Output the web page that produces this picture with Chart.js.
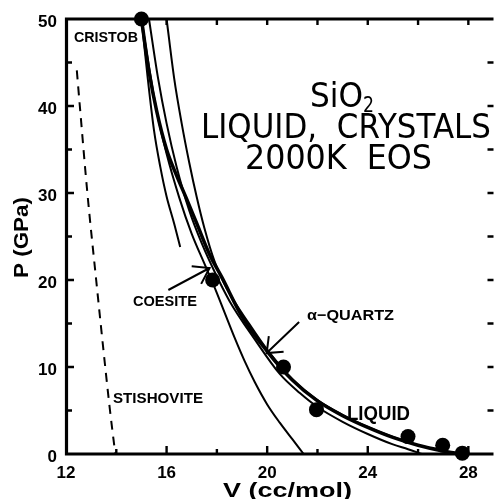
<!DOCTYPE html>
<html><head><meta charset="utf-8">
<script src="https://cdn.jsdelivr.net/npm/chart.js@4/dist/chart.umd.min.js"></script>
<style>html,body{margin:0;padding:0;background:#fff;overflow:hidden}canvas{display:block}</style>
</head><body>
<canvas id="c" width="501" height="499"></canvas>
<script>
// ---- data (V in cc/mol, P in GPa) ----
const liquidDataV = [15.0, 17.83, 20.65, 21.96, 25.6, 26.98, 27.76];
const liquidDataP = [50.0, 20.0, 10.0, 5.1, 2.0, 1.0, 0.1];

const liquidCurveV = [15.0, 15.3, 15.6, 16.0, 16.4, 16.8, 17.2, 17.7, 18.2, 19.0, 20.0, 21.0, 22.0, 23.0, 24.0, 25.0, 26.0, 27.0, 27.7];
const liquidCurveP = [50.0, 44.0, 39.5, 35.0, 32.0, 29.3, 26.5, 23.0, 20.3, 15.8, 11.8, 8.5, 6.1, 4.4, 3.05, 1.9, 1.0, 0.35, 0.0];

const quartzV = [15.3, 15.66, 16.0, 16.4, 16.9, 17.4, 17.9, 18.5, 19.5, 20.5, 21.3, 22.0, 23.0, 24.0, 25.0, 25.6, 26.15];
const quartzP = [50.0, 43.2, 38.0, 33.0, 28.0, 24.2, 21.0, 17.6, 13.2, 9.2, 7.0, 5.4, 3.7, 2.3, 1.1, 0.55, 0.0];

const cristobV = [16.0, 16.3, 16.6, 16.9, 17.2, 17.5, 17.9, 18.4, 19.3, 20.0, 21.0, 22.0, 23.0, 24.0, 25.0, 26.0, 27.0, 27.7];
const cristobP = [50.0, 43.2, 38.0, 33.5, 29.5, 26.0, 22.2, 19.0, 14.9, 12.0, 8.6, 6.2, 4.5, 3.1, 1.95, 1.02, 0.37, 0.0];

const coesiteV = [15.0, 15.3, 15.6, 16.0, 16.5, 17.0, 17.5, 17.9, 18.3, 18.7, 19.1, 19.5, 20.0, 20.5, 21.0, 21.45];
const coesiteP = [50.0, 44.5, 39.5, 34.5, 29.5, 25.3, 21.9, 19.2, 16.3, 13.4, 10.7, 8.3, 5.7, 3.6, 1.7, 0.0];

const shortV = [15.0, 15.25, 15.5, 15.75, 16.0, 16.3, 16.54];
const shortP = [50.0, 43.2, 37.2, 33.0, 29.6, 26.5, 23.8];

const stishV = [12.43, 12.55, 12.85, 13.2, 13.56, 13.75, 13.96];
const stishP = [44.1, 40.0, 30.0, 20.0, 10.0, 5.0, 0.0];

const xTickLabels = [12, 16, 20, 24, 28];
const yTickLabels = [0, 10, 20, 30, 40, 50];

const pts = (xs, ys) => xs.map((v, i) => ({x: v, y: ys[i]}));

function curve(xs, ys, w, dash) {
  return {data: pts(xs, ys), showLine: true, borderColor: '#000', borderWidth: w,
    borderDash: dash || [], pointRadius: 0, cubicInterpolationMode: 'monotone', clip: false, fill: false};
}

function txt(ctx, s, x, y, font, w, align, rot) {
  ctx.save();
  ctx.font = font;
  ctx.fillStyle = '#000';
  ctx.textBaseline = 'alphabetic';
  const m = ctx.measureText(s).width;
  const sx = w ? w / m : 1;
  ctx.translate(x, y);
  if (rot) ctx.rotate(rot);
  ctx.scale(sx, 1);
  ctx.textAlign = align || 'left';
  ctx.fillText(s, 0, 0);
  ctx.restore();
}

function arrow(ctx, x, y, tail, tip, ang, len) {
  const tx = x.getPixelForValue(tail[0]), ty = y.getPixelForValue(tail[1]);
  const px = x.getPixelForValue(tip[0]), py = y.getPixelForValue(tip[1]);
  const a = Math.atan2(ty - py, tx - px);
  ctx.beginPath();
  ctx.moveTo(tx, ty); ctx.lineTo(px, py);
  ctx.moveTo(px + len * Math.cos(a + ang), py + len * Math.sin(a + ang));
  ctx.lineTo(px, py);
  ctx.lineTo(px + len * Math.cos(a - ang), py + len * Math.sin(a - ang));
  ctx.stroke();
}

const frame = {
  id: 'frame',
  beforeDatasetsDraw(chart) {
    const {ctx, chartArea: a, scales: {x, y}} = chart;
    ctx.save();
    ctx.strokeStyle = '#000';
    ctx.lineWidth = 3.2;
    ctx.beginPath();
    ctx.moveTo(a.left + 0.5, a.top - 1.5); ctx.lineTo(a.left + 0.5, a.bottom); ctx.lineTo(a.right, a.bottom);
    ctx.moveTo(a.left, a.top); ctx.lineTo(a.right, a.top);
    ctx.stroke();
    ctx.lineWidth = 2.4;
    ctx.beginPath();
    for (let v = 14; v <= 28; v += 2) {
      const px = x.getPixelForValue(v);
      const L = (v % 4 === 0) ? 8 : 5;
      ctx.moveTo(px, a.bottom); ctx.lineTo(px, a.bottom - L);
      if (v >= 16) { ctx.moveTo(px, a.top); ctx.lineTo(px, a.top + 6); }
    }
    for (let p = 5; p <= 45; p += 5) {
      const py = y.getPixelForValue(p);
      const L = (p % 10 === 0) ? 8 : 6;
      ctx.moveTo(a.left, py); ctx.lineTo(a.left + L, py);
      ctx.moveTo(a.right, py); ctx.lineTo(a.right - 6, py);
    }
    ctx.stroke();
    ctx.restore();
  },
  afterDatasetsDraw(chart) {
    const {ctx, chartArea: a, scales: {x, y}} = chart;
    ctx.save();
    // tick labels
    yTickLabels.forEach(p => txt(ctx, String(p), 57, y.getPixelForValue(p) + 7.5, 'bold 17px "Liberation Sans"', 0, 'right'));
    xTickLabels.forEach(v => txt(ctx, String(v), x.getPixelForValue(v), 477.5, 'bold 17px "Liberation Sans"', 0, 'center'));
    // axis titles
    txt(ctx, 'P (GPa)', 28, 237.5, 'bold 21px "Liberation Sans"', 81, 'center', -Math.PI / 2);
    txt(ctx, 'V (cc/mol)', 223, 497, 'bold 21px "Liberation Sans"', 129, 'left');
    // title block
    const tf = '33px "DejaVu Sans"';
    txt(ctx, 'SiO', 310, 107, tf, 53, 'left');
    txt(ctx, '2', 363, 112, '21px "DejaVu Sans"', 11, 'left');
    txt(ctx, 'LIQUID,  CRYSTALS', 201, 138, tf, 290, 'left');
    txt(ctx, '2000K  EOS', 245, 169, tf, 187, 'left');
    // curve labels
    const lf = 'bold 15px "Liberation Sans"';
    txt(ctx, 'CRISTOB', 74, 41.5, lf, 64, 'left');
    txt(ctx, 'COESITE', 133, 306, lf, 64, 'left');
    txt(ctx, 'STISHOVITE', 113, 403, lf, 90, 'left');
    txt(ctx, '\u03B1\u2212QUARTZ', 307, 320, lf, 87, 'left');
    txt(ctx, 'LIQUID', 347, 420, 'bold 20px "Liberation Sans"', 63, 'left');
    // arrows
    ctx.strokeStyle = '#000';
    ctx.lineWidth = 2;
    arrow(ctx, x, y, [16.07, 18.85], [17.71, 21.38], 34 * Math.PI / 180, 18);
    arrow(ctx, x, y, [21.27, 15.17], [19.98, 11.6], 39 * Math.PI / 180, 17);
    ctx.restore();
  }
};

new Chart(document.getElementById('c'), {
  type: 'scatter',
  data: {
    datasets: [
      curve(stishV, stishP, 2, [9, 7]),
      curve(shortV, shortP, 2),
      curve(coesiteV, coesiteP, 2),
      curve(quartzV, quartzP, 2),
      curve(cristobV, cristobP, 2),
      curve(liquidCurveV, liquidCurveP, 3.5),
      {data: pts(liquidDataV, liquidDataP), showLine: false, pointRadius: 7.5,
        pointBackgroundColor: '#000', pointBorderColor: '#000', pointBorderWidth: 0, clip: false}
    ]
  },
  options: {
    responsive: false,
    animation: false,
    devicePixelRatio: 1,
    layout: {padding: {left: 66, top: 19, right: 0, bottom: 45}},
    plugins: {legend: {display: false}, tooltip: {enabled: false}},
    scales: {
      x: {type: 'linear', min: 12, max: 29, display: false},
      y: {type: 'linear', min: 0, max: 50, display: false}
    }
  },
  plugins: [frame]
});
</script>
</body></html>
